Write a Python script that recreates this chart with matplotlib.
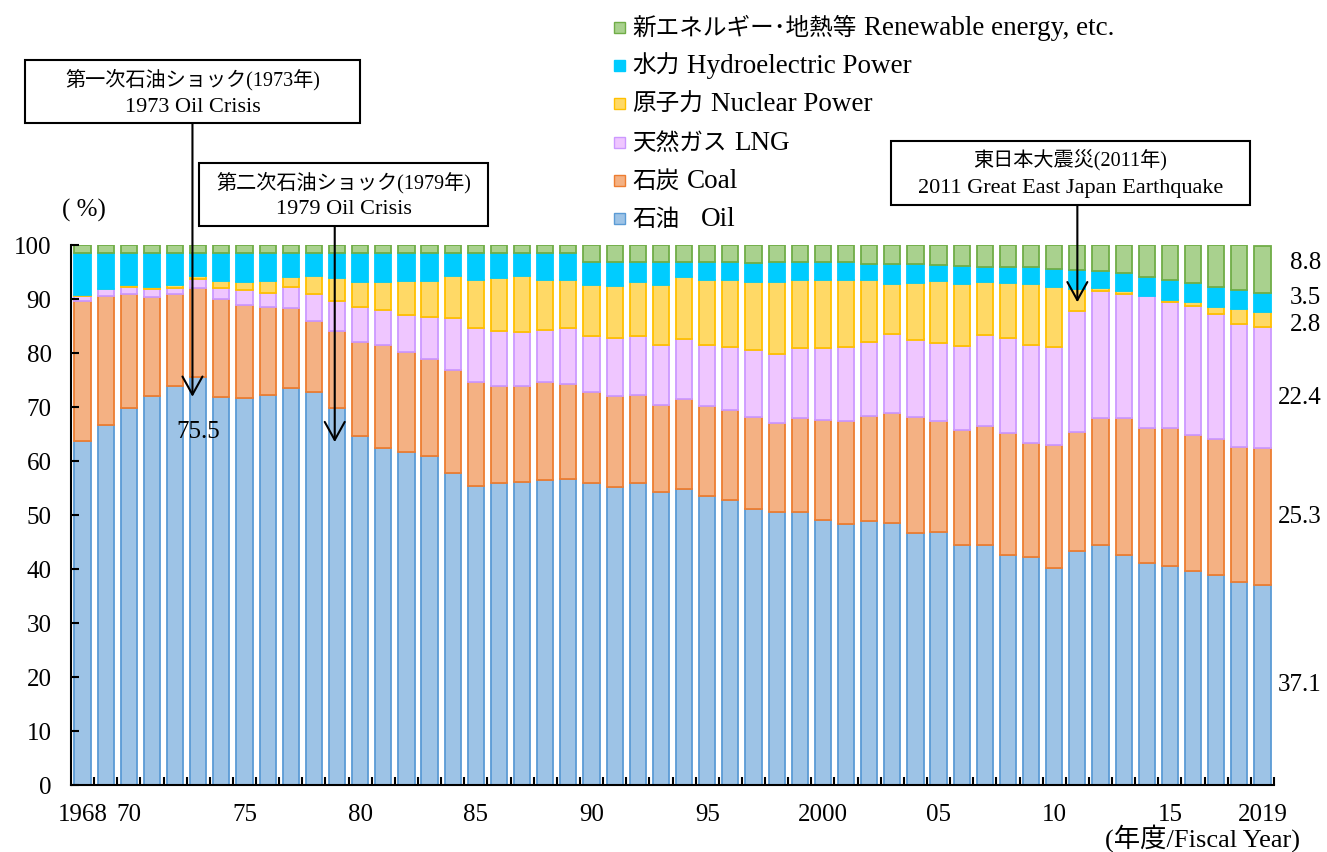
import matplotlib
matplotlib.use("Agg")
import matplotlib.pyplot as plt
import numpy as np
from matplotlib.patches import Rectangle

plt.rcParams['font.family'] = ['Liberation Serif', 'Noto Sans CJK JP']

years = list(range(1968, 2020))

oil = [63.7, 66.7, 69.8, 72.1, 73.9, 75.5, 71.9, 71.6, 72.2, 73.5,
       72.8, 69.9, 64.6, 62.5, 61.7, 61.0, 57.8, 55.4, 56.0, 56.1,
       56.4, 56.7, 55.9, 55.1, 55.9, 54.2, 54.9, 53.6, 52.8, 51.2,
       50.6, 50.6, 49.0, 48.4, 48.8, 48.5, 46.6, 46.8, 44.4, 44.5,
       42.6, 42.2, 40.2, 43.3, 44.5, 42.6, 41.1, 40.6, 39.6, 38.9,
       37.6, 37.1]
coal = [25.9, 23.9, 21.2, 18.3, 17.0, 16.6, 18.1, 17.3, 16.3, 14.9,
        13.1, 14.2, 17.5, 19.0, 18.4, 17.9, 19.1, 19.3, 17.9, 17.8,
        18.2, 17.6, 16.8, 16.9, 16.3, 16.2, 16.5, 16.5, 16.7, 17.0,
        16.4, 17.3, 18.6, 19.0, 19.5, 20.3, 21.5, 20.7, 21.3, 21.9,
        22.6, 21.1, 22.8, 22.1, 23.5, 25.3, 25.1, 25.6, 25.3, 25.1,
        25.0, 25.3]
lng = [1.0, 1.2, 1.3, 1.4, 1.2, 1.6, 2.1, 2.7, 2.7, 3.8,
       5.0, 5.6, 6.4, 6.5, 6.9, 7.8, 9.5, 9.9, 10.2, 10.0,
       9.7, 10.3, 10.5, 10.7, 10.9, 11.1, 11.2, 11.3, 11.7, 12.3,
       12.9, 13.1, 13.4, 13.7, 13.8, 14.7, 14.4, 14.4, 15.6, 16.9,
       17.6, 18.2, 18.2, 22.4, 23.4, 23.1, 24.4, 23.3, 23.8, 23.3,
       22.7, 22.4]
nuclear = [0.1, 0.1, 0.3, 0.4, 0.5, 0.6, 1.3, 1.5, 2.1, 1.8,
           3.4, 4.1, 4.7, 5.2, 6.4, 6.6, 7.8, 9.0, 9.7, 10.3,
           9.3, 9.0, 9.4, 9.7, 10.1, 11.1, 11.5, 12.1, 12.4, 12.7,
           13.3, 12.5, 12.5, 12.4, 11.4, 9.3, 10.5, 11.4, 11.5, 9.9,
           10.2, 11.3, 11.1, 4.0, 0.6, 0.5, 0.0, 0.3, 0.8, 1.3,
           2.8, 2.8]
hydro = [7.9, 6.7, 6.0, 6.4, 6.0, 4.3, 5.2, 5.5, 5.3, 4.6,
         4.3, 4.8, 5.4, 5.4, 5.2, 5.3, 4.4, 4.9, 4.7, 4.4,
         5.0, 5.0, 4.3, 4.4, 3.7, 4.3, 2.8, 3.3, 3.2, 3.5,
         3.6, 3.3, 3.3, 3.3, 3.0, 3.7, 3.5, 3.0, 3.4, 2.8,
         3.0, 3.2, 3.3, 3.5, 3.2, 3.3, 3.5, 3.8, 3.4, 3.7,
         3.6, 3.5]
renewable = [1.4, 1.4, 1.4, 1.4, 1.4, 1.4, 1.4, 1.4, 1.4, 1.4,
             1.4, 1.4, 1.4, 1.4, 1.4, 1.4, 1.4, 1.5, 1.5, 1.4,
             1.4, 1.4, 3.1, 3.2, 3.1, 3.1, 3.1, 3.2, 3.2, 3.3,
             3.2, 3.2, 3.2, 3.2, 3.5, 3.5, 3.5, 3.7, 3.8, 4.0,
             4.0, 4.0, 4.4, 4.7, 4.8, 5.2, 5.9, 6.4, 7.1, 7.7,
             8.3, 8.8]

labels_jp = ['石油', '石炭', '天然ガス', '原子力', '水力', '新エネルギー･地熱等']
labels_en = ['Oil', 'Coal', 'LNG', 'Nuclear Power', 'Hydroelectric Power',
             'Renewable energy, etc.']
faces = ['#9DC3E6', '#F4B183', '#EFC6FF', '#FFD966', '#00CCFF', '#A9D18E']
edges = ['#5B9BD5', '#ED7D31', '#CC99FF', '#FFC000', '#00CCFF', '#70AD47']

tick_years = {1968: '1968', 1970: '70', 1975: '75', 1980: '80', 1985: '85',
              1990: '90', 1995: '95', 2000: '2000', 2005: '05', 2010: '10',
              2015: '15', 2019: '2019'}

W, H = 1327, 852
fig = plt.figure(figsize=(W / 100, H / 100), dpi=100)
ax = fig.add_axes([71 / W, 67 / H, 1203 / W, 540 / H])

x = np.arange(len(years))
series = [oil, coal, lng, nuclear, hydro, renewable]
bottom = np.zeros(len(years))
for vals, fc, ec in zip(series, faces, edges):
    vals = np.array(vals)
    ax.bar(x, vals, 0.7, bottom=bottom, color=fc, edgecolor=ec,
           linewidth=np.where(vals > 0, 1.3, 0))
    bottom += vals

ax.set_xlim(-0.5, 51.5)
ax.set_ylim(0, 100)
ax.set_yticks(range(0, 101, 10))
ax.tick_params(axis='y', direction='in', length=6, width=1.5, labelsize=18, pad=14)
ax.set_xticks([years.index(y) for y in tick_years])
ax.set_xticklabels(list(tick_years.values()))
ax.set_xticks(np.arange(0.5, 52, 1), minor=True)
ax.tick_params(axis='x', which='major', length=0, labelsize=18, pad=14)
ax.tick_params(axis='x', which='minor', direction='in', length=6, width=1.5)
for s in ['top', 'right']:
    ax.spines[s].set_visible(False)
for s in ['left', 'bottom']:
    ax.spines[s].set_linewidth(1.5)

fig.text(62 / W, 1 - 210 / H, '( %)', fontsize=18, va='center', ha='left')
fig.text(1300 / W, 1 - 838 / H, '(年度/Fiscal Year)', fontsize=19, va='center', ha='right')

# legend, top entry first
renderer = fig.canvas.get_renderer()
rows = [27, 65, 103, 142, 180, 218]
gaps = [8, 8, 8, 8, 8, 22]
for r, jp, en, fc, ec, g in zip(rows, labels_jp[::-1], labels_en[::-1],
                                faces[::-1], edges[::-1], gaps):
    fig.patches.append(Rectangle((614 / W, 1 - (r + 6) / H), 11 / W, 11 / H,
                                 transform=fig.transFigure, facecolor=fc,
                                 edgecolor=ec, linewidth=1))
    t = fig.text(632 / W, 1 - (r + 8) / H, jp, fontsize=17, va='baseline', ha='left')
    bb = t.get_window_extent(renderer)
    fig.text((bb.x1 + g) / W, 1 - (r + 8) / H, en, fontsize=19.5, va='baseline', ha='left')

# event boxes
boxes = [
    ((25, 60, 360, 123), '第一次石油ショック(1973年)', '1973 Oil Crisis', 4.75, 71.9),
    ((199, 163, 488, 226), '第二次石油ショック(1979年)', '1979 Oil Crisis', 10.9, 63.5),
    ((891, 141, 1250, 205), '東日本大震災(2011年)', '2011 Great East Japan Earthquake', 43.0, 89.4),
]
for (x0, y0, x1, y1), jp, en, ax_x, ax_y in boxes:
    fig.patches.append(Rectangle((x0 / W, 1 - y1 / H), (x1 - x0) / W, (y1 - y0) / H,
                                 transform=fig.transFigure, facecolor='white',
                                 edgecolor='black', linewidth=1.5, zorder=5))
    cx = (x0 + x1) / 2
    fig.text(cx / W, 1 - (y0 + 20) / H, jp, fontsize=14.5, ha='center', va='center', zorder=6)
    fig.text(cx / W, 1 - (y0 + 47) / H, en, fontsize=16, ha='center', va='center', zorder=6)
    top = (785 - y1) / 5.4
    ax.annotate('', xy=(ax_x, ax_y), xytext=(ax_x, top), annotation_clip=False,
                arrowprops=dict(arrowstyle='->,head_length=0.65,head_width=0.36',
                                mutation_scale=20, lw=1.5, color='black',
                                shrinkA=0, shrinkB=0))

ax.text(5, 65.4, f'{oil[years.index(1973)]:.1f}', fontsize=18, ha='center', va='center')

# 2019 shares on the right
last = [s[-1] for s in series]
label_y = [18.5, 49.6, 71.7, 85.2, 90.2, 96.7]
for v, ly in zip(last, label_y):
    ax.text(53.55, ly, f'{v:.1f}', fontsize=18, ha='right', va='center', clip_on=False)

fig.savefig('out.png', dpi=100)
